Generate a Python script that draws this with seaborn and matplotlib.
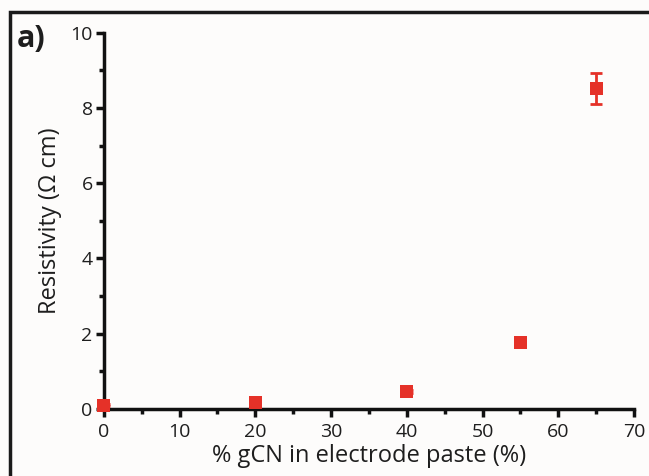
import numpy as np
import pandas as pd
import seaborn as sns
import matplotlib.pyplot as plt
from matplotlib.patches import Rectangle
from matplotlib.ticker import MultipleLocator

# values
gcn_pct = [0, 20, 40, 55, 65]
resistivity = [0.10, 0.18, 0.47, 1.76, 8.52]
resistivity_err = [0.02, 0.03, 0.04, 0.09, 0.40]
x_ticks = [0, 10, 20, 30, 40, 50, 60, 70]
y_ticks = [0, 2, 4, 6, 8, 10]

RED = '#e53128'
BG = '#fdfcfb'
INK = '#1e1e1e'

sns.set_style("ticks")
plt.rcParams['font.family'] = ['Open Sans', 'DejaVu Sans']

df = pd.DataFrame({'gcn': gcn_pct, 'res': resistivity, 'err': resistivity_err})

fig = plt.figure(figsize=(6.49, 4.76), dpi=100, facecolor=BG)
ax = fig.add_axes([0.160, 0.141, 0.817, 0.790], facecolor=BG)

ax.errorbar(df['gcn'], df['res'], yerr=df['err'], fmt='none', ecolor=RED,
            elinewidth=2, capsize=4, capthick=2, clip_on=False, zorder=3)
sns.scatterplot(data=df, x='gcn', y='res', marker='s', s=85, color=RED,
                edgecolor='none', ax=ax, clip_on=False, zorder=4)

ax.set_xlim(0, 70)
ax.set_ylim(0, 10)
ax.set_xticks(x_ticks)
ax.set_yticks(y_ticks)
ax.xaxis.set_minor_locator(MultipleLocator(5))
ax.yaxis.set_minor_locator(MultipleLocator(1))

sns.despine(ax=ax)
for side in ['left', 'bottom']:
    ax.spines[side].set_linewidth(2.5)
    ax.spines[side].set_color('#111111')
ax.tick_params(which='major', direction='out', length=6, width=2.5,
               color='#111111', labelsize=14, labelcolor=INK, pad=2)
ax.tick_params(axis='x', which='major', pad=4)
ax.tick_params(which='minor', direction='out', length=3.5, width=2.5, color='#111111')

ax.set_xlabel('% gCN in electrode paste (%)', fontsize=17, color=INK, labelpad=2)
ax.set_ylabel('Resistivity (Ω cm)', fontsize=17, color=INK, labelpad=6)

fig.text(0.026, 0.918, 'a)', fontsize=22, fontweight='bold', color=INK,
         ha='left', va='center')

# panel frame (left and top edges visible)
fig.add_artist(Rectangle((0.016, -0.5), 2.0, 0.5 + 0.975, transform=fig.transFigure,
                         fill=False, edgecolor='#1a1a1a', linewidth=2.5))

fig.savefig('out.png', dpi=100, facecolor=BG)
